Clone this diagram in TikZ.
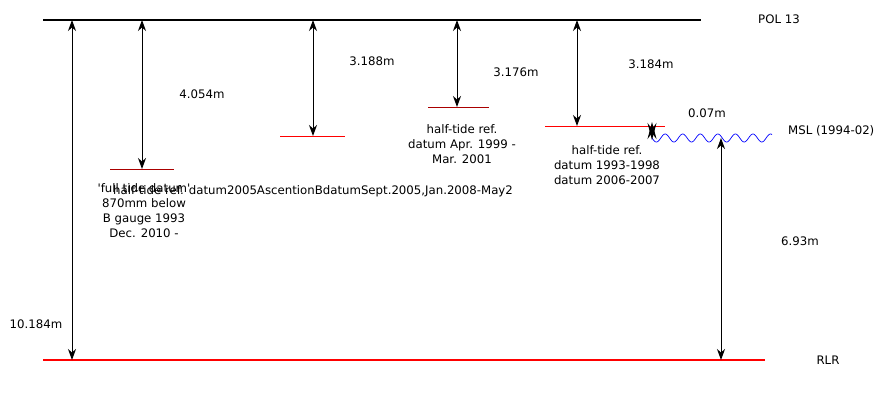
\documentclass[tikz,border=0pt]{standalone}
\usepackage{fontspec}
\setmainfont{DejaVu Sans}
\usetikzlibrary{arrows.meta}
\definecolor{darkred}{RGB}{170,0,0}

\begin{document}
\begin{tikzpicture}[x=1pt,y=-1pt,
    tip/.tip={Stealth[length=11pt,width=8pt,inset=3.5pt]},
    longtip/.tip={Stealth[length=17pt,width=9pt,inset=6pt]},
    dim/.style={tip-tip, line width=1pt},
    lbl/.style={font=\fontsize{11.75}{15}\selectfont, inner sep=0pt, align=center}]
  \useasboundingbox (0,0) rectangle (875,400);
  % Reference levels
  \draw[line width=2pt] (43,20) coordinate (polL) -- (701,20) coordinate (polR);
  \draw[red, line width=2.2pt] (43,360) coordinate (rlrL) -- (765,360) coordinate (rlrR);
  \node[lbl] (pol) at (779,19) {POL 13};
  \node[lbl] (rlr) at (828,360) {RLR};
  % Datum marks
  \draw[darkred, line width=0.8pt] (110,169) coordinate (fullL) -- (174,169) coordinate (fullR);
  \draw[red, line width=0.8pt] (280,136) coordinate (ascL) -- (345,136) coordinate (ascR);
  \draw[darkred, line width=0.8pt] (428,107) coordinate (aprL) -- (489,107) coordinate (aprR);
  \draw[red, line width=0.8pt] (545,126) coordinate (htL) -- (665,126) coordinate (htR);
  % MSL wave
  \draw[blue, line width=0.7pt] plot[domain=652:772, samples=200]
        (\x, {138 + 4*sin((\x-652)*20.5)}) coordinate (mslR);
  \node[lbl, anchor=west] (msl) at (788,131) {MSL (1994-02)};
  % Dimension arrows
  \coordinate (t1) at (72,20);   \coordinate (b1) at (72,360);
  \coordinate (t2) at (142,20);  \coordinate (b2) at (142,169);
  \coordinate (t3) at (313,20);  \coordinate (b3) at (313,136);
  \coordinate (t4) at (457,20);  \coordinate (b4) at (457,107);
  \coordinate (t5) at (577,20);  \coordinate (b5) at (577,126);
  \coordinate (t6) at (652,122); \coordinate (b6) at (652,140);
  \coordinate (t7) at (721,138); \coordinate (b7) at (721,360);
  \foreach \i in {1,2,3,4,5,7}
    \draw[dim] (t\i) -- (b\i);
  \draw[dim, longtip-longtip] (t6) -- (b6);
  % Dimension labels
  \node[lbl] (d1) at (36,324) {10.184m};
  \node[lbl] (d2) at (202,94) {4.054m};
  \node[lbl] (d3) at (372,61) {3.188m};
  \node[lbl] (d4) at (516,72) {3.176m};
  \node[lbl] (d5) at (651,64) {3.184m};
  \node[lbl] (d6) at (707,113) {0.07m};
  \node[lbl] (d7) at (800,241) {6.93m};
  % Datum notes
  \node[lbl, anchor=north] (fullnote) at (144,183)
        {\textquotesingle full tide datum\textquotesingle\\870mm below\\B gauge 1993\\Dec. 2010 -};
  \node[lbl, anchor=west] (ascnote) at (113,191)
        {half-tide ref. datum2005AscentionBdatumSept.2005,Jan.2008-May2};
  \node[lbl, anchor=north] (aprnote) at (462,124)
        {half-tide ref.\\datum Apr. 1999 -\\Mar. 2001};
  \node[lbl, anchor=north] (htnote) at (607,145)
        {half-tide ref.\\datum 1993-1998\\datum 2006-2007};
\end{tikzpicture}
\end{document}
